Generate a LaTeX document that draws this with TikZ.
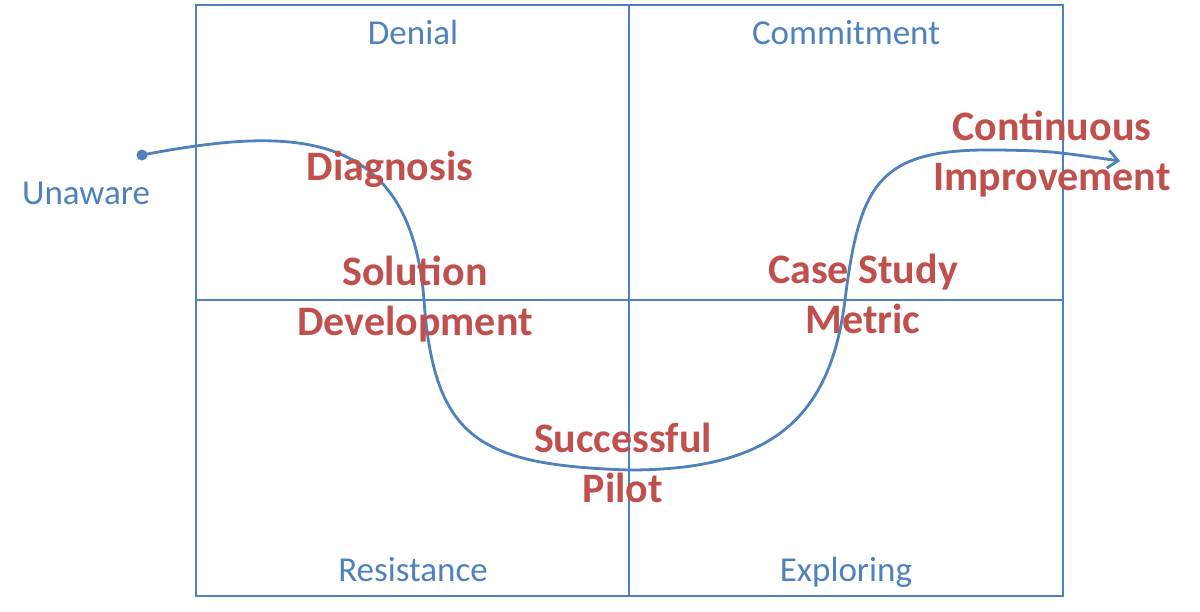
\documentclass[tikz,border=0pt]{standalone}
\usepackage{fontspec}
\setmainfont{Carlito}
\usetikzlibrary{arrows.meta}
\definecolor{offblue}{HTML}{4F81BD}
\definecolor{offred}{HTML}{C0504D}
\begin{document}
\begin{tikzpicture}[x=1pt,y=-1pt,
  grid/.style={draw=offblue,line width=2.6pt},
  quad/.style={text=offblue,font=\fontsize{35}{42}\selectfont,inner sep=0pt,anchor=base},
  stage/.style={text=offred,font=\bfseries\fontsize{42}{50}\selectfont,inner sep=0pt,align=center,anchor=base},
  curve/.style={draw=offblue,line width=2.8pt}]
\useasboundingbox (0,0) rectangle (1200,611);
\fill[white] (0,0) rectangle (1200,611);
% grid
\draw[grid] (196,5) rectangle (1063,596);
\coordinate (tm) at (629,5);
\coordinate (bm) at (629,596);
\coordinate (lm) at (196,300);
\coordinate (rm) at (1063,300);
\draw[grid] (tm) -- (bm);
\draw[grid] (lm) -- (rm);
% quadrant labels
\node[quad] (denial) at (413,44) {Denial};
\node[quad] (commit) at (846,44) {Commitment};
\node[quad] (resist) at (413,581) {Resistance};
\node[quad] (explore) at (846,581) {Exploring};
\node[quad] (unaware) at (86,204) {Unaware};
% curve
\coordinate (s) at (142,155);
\coordinate (p1) at (424,300);
\coordinate (p2) at (629,470);
\coordinate (p3) at (845,300);
\coordinate (p4) at (1000,150);
\coordinate (e) at (1120,161);
\fill[offblue] (s) circle (5.5);
\draw[curve,-{Straight Barb[length=10pt,width=18pt,line width=2.8pt]}]
  (s) .. controls (285,128) and (410,122) .. (p1)
      .. controls (434,440) and (480,465) .. (p2)
      .. controls (770,470) and (830,420) .. (p3)
      .. controls (860,180) and (880,148) .. (p4)
      .. controls (1050,151) .. (e);
% stage labels
\node[stage] (diag) at (390,180) {Diagnosis};
\node[stage] (sol) at (415,335) {Solution\\Development};
\node[stage] (pilot) at (623,502) {Successful\\Pilot};
\node[stage] (case) at (863,333) {Case Study\\Metric};
\node[stage] (cont) at (1052,190) {Continuous\\Improvement};
\end{tikzpicture}
\end{document}
